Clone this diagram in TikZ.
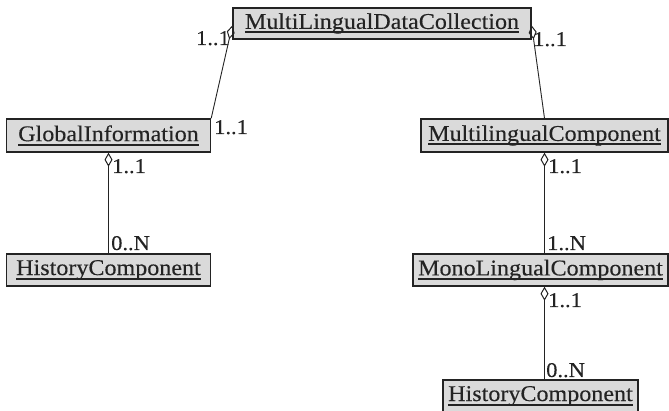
\documentclass[tikz,border=0pt]{standalone}
\usepackage{fontspec}
\setmainfont{Liberation Serif}[FakeStretch=1.07, FakeBold=0.25]
\usetikzlibrary{arrows.meta}
\definecolor{boxfill}{RGB}{218,218,218}
\definecolor{ink}{RGB}{35,35,35}
% underlined class name with a heavy rule
\newcommand\ulname[1]{\setbox0\hbox{#1}\rlap{\rule[-4.5pt]{\wd0}{1.9pt}}\box0}
\begin{document}
\begin{tikzpicture}[x=1pt,y=-1pt,
  font=\fontsize{22.5}{26}\selectfont,
  cls/.style={draw=ink, line width=1.4pt, fill=boxfill, inner sep=0pt, text=ink},
  assoc/.style={draw=ink, line width=0.9pt},
  agg/.style={assoc, {Diamond[open, length=14pt, width=8pt, line width=1pt]}-},
  mult/.style={inner sep=0pt, text=ink, anchor=base west, font=\fontsize{21}{24}\selectfont}]
\useasboundingbox (0,0) rectangle (669,411);

% classes
\node[cls, minimum width=298pt, minimum height=31pt] (mldc) at (382,23.5) {\ulname{MultiLingualDataCollection}};
\node[cls, minimum width=204pt, minimum height=33pt] (gi) at (108.5,135.5) {\ulname{GlobalInformation}};
\node[cls, minimum width=247pt, minimum height=33pt] (mc) at (544.5,135.5) {\ulname{MultilingualComponent}};
\node[cls, minimum width=204pt, minimum height=32pt] (hc1) at (108.5,270) {\ulname{HistoryComponent}};
\node[cls, minimum width=255pt, minimum height=32pt] (mlc) at (540.5,270) {\ulname{MonoLingualComponent}};
\node[cls, minimum width=195pt, minimum height=32pt] (hc2) at (540.5,396) {\ulname{HistoryComponent}};

% aggregations
\draw[agg] ([yshift=-2pt]mldc.west) -- (gi.north east);
\draw[agg] ([yshift=-2pt]mldc.east) -- (mc.north);
\draw[agg] (gi.south) -- (hc1.north);
\draw[agg] (mc.south) -- (mc.south |- mlc.north);
\draw[agg] (mc.south |- mlc.south) -- (mc.south |- hc2.north);

% multiplicities
\node[mult, anchor=base east] (m1) at (230,45) {1..1};
\node[mult] (m2) at (533,46) {1..1};
\node[mult] (m3) at (214,134) {1..1};
\node[mult] (m4) at (112,173) {1..1};
\node[mult] (m5) at (111,250) {0..N};
\node[mult] (m6) at (548,173) {1..1};
\node[mult] (m7) at (547,250) {1..N};
\node[mult] (m8) at (548,307) {1..1};
\node[mult] (m9) at (546,377) {0..N};
\end{tikzpicture}
\end{document}
